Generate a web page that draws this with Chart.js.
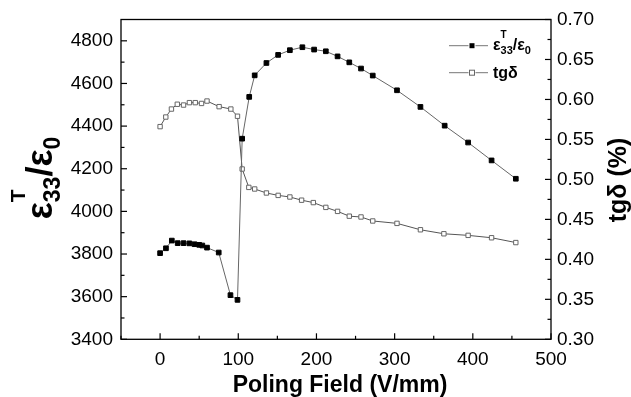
<!DOCTYPE html>
<html>
<head>
<meta charset="utf-8">
<script src="https://cdn.jsdelivr.net/npm/chart.js@4/dist/chart.umd.min.js"></script>
<style>
  body { margin: 0; background: #fff; }
  #wrap { width: 631px; height: 397px; }
</style>
</head>
<body>
<div id="wrap"><canvas id="c"></canvas></div>
<script>
// --- data ---
const epsField = [0, 7.5, 15, 22.5, 30, 37.5, 44, 50, 54, 60, 75, 90, 99, 105, 114, 121, 136, 151, 166, 182, 197, 212, 227, 242, 257, 272, 303, 333, 364, 394, 424, 455];
const epsValues = [3804, 3827, 3863, 3851, 3851, 3850, 3846, 3843, 3840, 3830, 3807, 3607, 3585, 4341, 4537, 4638, 4696, 4734, 4756, 4770, 4759, 4751, 4727, 4699, 4670, 4637, 4568, 4490, 4402, 4323, 4239, 4153];

const tgField = [0, 7.3, 14.5, 22, 30, 37.5, 45, 53, 60, 75.5, 90.5, 99, 105, 113.5, 121, 136, 151, 166, 181, 196, 212, 227, 242, 257, 272, 303, 333, 363, 394, 424, 455];
const tgValues = [0.566, 0.578, 0.588, 0.594, 0.593, 0.596, 0.596, 0.595, 0.598, 0.591, 0.588, 0.579, 0.513, 0.490, 0.488, 0.483, 0.480, 0.478, 0.474, 0.471, 0.465, 0.460, 0.454, 0.453, 0.448, 0.445, 0.437, 0.432, 0.430, 0.427, 0.421];

const xTicks = [0, 100, 200, 300, 400, 500];
const yTicks = [3400, 3600, 3800, 4000, 4200, 4400, 4600, 4800];
const y1Ticks = [0.30, 0.35, 0.40, 0.45, 0.50, 0.55, 0.60, 0.65, 0.70];

const FONT = 'Arial, "Liberation Sans", sans-serif';

// texto con subíndices / superíndices
// parts: [texto, tamaño, desplazamiento vertical, avanza?]
function richText(ctx, parts, x, y, rot, align) {
  ctx.save();
  ctx.translate(x, y);
  ctx.rotate(rot);
  ctx.textBaseline = 'alphabetic';
  ctx.textAlign = 'left';
  let w = 0;
  parts.forEach(p => {
    ctx.font = 'bold ' + p[1] + 'px ' + FONT;
    if (p[3] !== false) w += ctx.measureText(p[0]).width;
  });
  let u = align === 'center' ? -w / 2 : 0;
  parts.forEach(p => {
    ctx.font = 'bold ' + p[1] + 'px ' + FONT;
    ctx.fillText(p[0], u, p[2]);
    if (p[3] !== false) u += ctx.measureText(p[0]).width;
  });
  ctx.restore();
}

function tickMarks(ctx, scale, ticks, side, a) {
  const major = 6, minor = 3.5;
  const draw = (v, len) => {
    const p = scale.getPixelForValue(v);
    ctx.beginPath();
    if (side === 'bottom') { ctx.moveTo(p, a.bottom); ctx.lineTo(p, a.bottom - len); }
    if (side === 'left') { ctx.moveTo(a.left, p); ctx.lineTo(a.left + len, p); }
    if (side === 'right') { ctx.moveTo(a.right, p); ctx.lineTo(a.right - len, p); }
    ctx.stroke();
  };
  ticks.forEach((v, i) => {
    draw(v, major);
    if (i < ticks.length - 1) draw((v + ticks[i + 1]) / 2, minor);
  });
  // menor por debajo del primero (eje x desde -50)
  const step = ticks[1] - ticks[0];
  if (scale.min < ticks[0]) draw(ticks[0] - step / 2, minor);
}

const decorations = {
  id: 'decorations',
  afterDraw(chart) {
    const { ctx, chartArea: a, scales } = chart;
    ctx.save();
    ctx.strokeStyle = '#000';
    ctx.lineWidth = 1.3;
    ctx.strokeRect(a.left, a.top, a.right - a.left, a.bottom - a.top);
    ctx.lineWidth = 1.2;
    tickMarks(ctx, scales.x, xTicks, 'bottom', a);
    tickMarks(ctx, scales.y, yTicks, 'left', a);
    tickMarks(ctx, scales.y1, y1Ticks, 'right', a);

    ctx.fillStyle = '#000';
    // eje x
    ctx.font = 'bold 23px ' + FONT;
    ctx.textAlign = 'center';
    ctx.textBaseline = 'alphabetic';
    ctx.fillText('Poling Field (V/mm)', 340, 391.5);

    // eje y izquierdo
    richText(ctx, [
      ['ε', 36, 0], ['T', 21, -27, false], ['33', 23, 8],
      ['/', 36, 0], ['ε', 36, 0], ['0', 23, 8]
    ], 52, 178, -Math.PI / 2, 'center');

    // eje y derecho
    richText(ctx, [['tgδ (%)', 25, 0]], 626, 180, -Math.PI / 2, 'center');

    // leyenda
    const rows = [45.7, 72.7];
    ctx.strokeStyle = '#777';
    ctx.lineWidth = 1;
    rows.forEach(ry => {
      ctx.beginPath(); ctx.moveTo(449, ry); ctx.lineTo(488, ry); ctx.stroke();
    });
    ctx.fillStyle = '#fff';
    ctx.fillRect(468.5, rows[0] - 3, 7, 6);
    ctx.fillRect(468.5, rows[1] - 3, 7, 6);
    ctx.fillStyle = '#000';
    ctx.fillRect(469.5, rows[0] - 2.5, 5, 5);
    ctx.strokeStyle = '#666';
    ctx.strokeRect(469.5, rows[1] - 2.5, 5, 5);
    ctx.fillStyle = '#000';
    richText(ctx, [
      ['ε', 16, 0], ['T', 10, -12, false], ['33', 11, 4],
      ['/', 16, 0], ['ε', 16, 0], ['0', 11, 4]
    ], 493, rows[0] + 4, 0, 'left');
    richText(ctx, [['tgδ', 16, 0]], 493, rows[1] + 5, 0, 'left');
    ctx.restore();
  }
};

const toXY = (xs, ys) => xs.map((x, i) => ({ x: x, y: ys[i] }));

new Chart(document.getElementById('c'), {
  type: 'line',
  data: {
    datasets: [
      {
        label: 'ε33T/ε0',
        data: toXY(epsField, epsValues),
        yAxisID: 'y',
        borderColor: '#666',
        borderWidth: 1,
        pointStyle: 'rect',
        pointRadius: 3.3,
        pointBackgroundColor: '#000',
        pointBorderColor: '#000',
        pointBorderWidth: 1,
        tension: 0
      },
      {
        label: 'tgδ',
        data: toXY(tgField, tgValues),
        yAxisID: 'y1',
        borderColor: '#555',
        borderWidth: 1,
        pointStyle: 'rect',
        pointRadius: 3.1,
        pointBackgroundColor: '#fff',
        pointBorderColor: '#666',
        pointBorderWidth: 1,
        tension: 0
      }
    ]
  },
  options: {
    responsive: true,
    maintainAspectRatio: false,
    animation: false,
    layout: { padding: { top: 19.5, left: 0, right: 0, bottom: 0 } },
    plugins: { legend: { display: false }, tooltip: { enabled: false } },
    scales: {
      x: {
        type: 'linear',
        min: -50, max: 500,
        grid: { display: false, drawTicks: false },
        border: { display: false },
        afterBuildTicks: s => { s.ticks = xTicks.map(v => ({ value: v })); },
        afterFit: s => { s.height = 57.7; },
        ticks: { color: '#000', padding: 9, font: { family: FONT, size: 19 }, maxRotation: 0, callback: v => String(v) }
      },
      y: {
        position: 'left',
        min: 3400, max: 4900,
        grid: { display: false, drawTicks: false },
        border: { display: false },
        afterBuildTicks: s => { s.ticks = yTicks.map(v => ({ value: v })); },
        afterFit: s => { s.width = 121; },
        ticks: { color: '#000', padding: 8, font: { family: FONT, size: 19 }, callback: v => String(v) }
      },
      y1: {
        position: 'right',
        min: 0.30, max: 0.70,
        grid: { display: false, drawTicks: false },
        border: { display: false },
        afterBuildTicks: s => { s.ticks = y1Ticks.map(v => ({ value: v })); },
        afterFit: s => { s.width = 80; },
        ticks: { color: '#000', padding: 6, font: { family: FONT, size: 19 }, callback: v => v.toFixed(2) }
      }
    }
  },
  plugins: [decorations]
});
</script>
</body>
</html>
